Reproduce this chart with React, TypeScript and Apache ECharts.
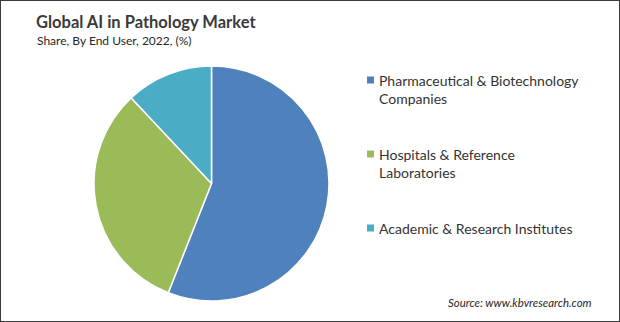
import React, { useEffect, useRef } from "react";
import * as echarts from "echarts";

const categories = [
  "Pharmaceutical & Biotechnology\nCompanies",
  "Hospitals & Reference\nLaboratories",
  "Academic & Research Institutes",
];
const shares = [56, 32, 12];
const colors = ["#4f81bd", "#9bbb59", "#4bacc6"];
const legendCenters = [80, 154, 228];

const titleText = "Global AI in Pathology Market";
const subtitleText = "Share, By End User, 2022, (%)";
const sourceText = "Source: www.kbvresearch.com";

export default function App() {
  const ref = useRef<HTMLDivElement>(null);
  useEffect(() => {
    if (!ref.current) return;
    const chart = echarts.init(ref.current, undefined, { renderer: "svg" });
    const legendGraphics: any[] = [];
    categories.forEach((name, i) => {
      legendGraphics.push({
        type: "rect",
        left: 367,
        top: legendCenters[i] - 3.5,
        shape: { x: 0, y: 0, width: 7, height: 7 },
        style: { fill: colors[i] },
      });
      legendGraphics.push({
        type: "text",
        x: 379,
        y: legendCenters[i] - 9,
        style: {
          text: name,
          fill: "#333333",
          font: "14px Lato",
          lineHeight: 18.5,
          verticalAlign: "top",
          textAlign: "left",
        },
      });
    });
    chart.setOption({
      animation: false,
      backgroundColor: "transparent",
      title: [
        {
          text: titleText,
          left: 31,
          top: 8,
          textStyle: { fontFamily: "Lato", fontWeight: "bold", fontSize: 16.5, color: "#3a3a3a" },
        },
        {
          text: subtitleText,
          left: 32,
          top: 29,
          textStyle: { fontFamily: "Lato", fontWeight: "normal", fontSize: 12, color: "#262626" },
        },
        {
          text: sourceText,
          left: 443,
          top: 292,
          textStyle: { fontFamily: "Lato", fontStyle: "italic", fontWeight: "normal", fontSize: 11.4, color: "#262626" },
        },
      ],
      graphic: legendGraphics,
      series: [
        {
          type: "pie",
          center: [211.5, 183.5],
          radius: [0, 117.5],
          startAngle: 90,
          clockwise: true,
          label: { show: false },
          labelLine: { show: false },
          emphasis: { disabled: true },
          itemStyle: { borderColor: "#ffffff", borderWidth: 1.5 },
          data: categories.map((name, i) => ({
            name,
            value: shares[i],
            itemStyle: { color: colors[i] },
          })),
        },
      ],
    });
    return () => chart.dispose();
  }, []);
  return (
    <div
      style={{
        position: "fixed",
        left: 0,
        top: 0,
        width: 620,
        height: 322,
        boxSizing: "border-box",
        border: "1px solid #3a3a3a",
        background: "#ffffff",
      }}
    >
      <div ref={ref} style={{ position: "absolute", left: -1, top: -1, width: 620, height: 322 }} />
    </div>
  );
}
